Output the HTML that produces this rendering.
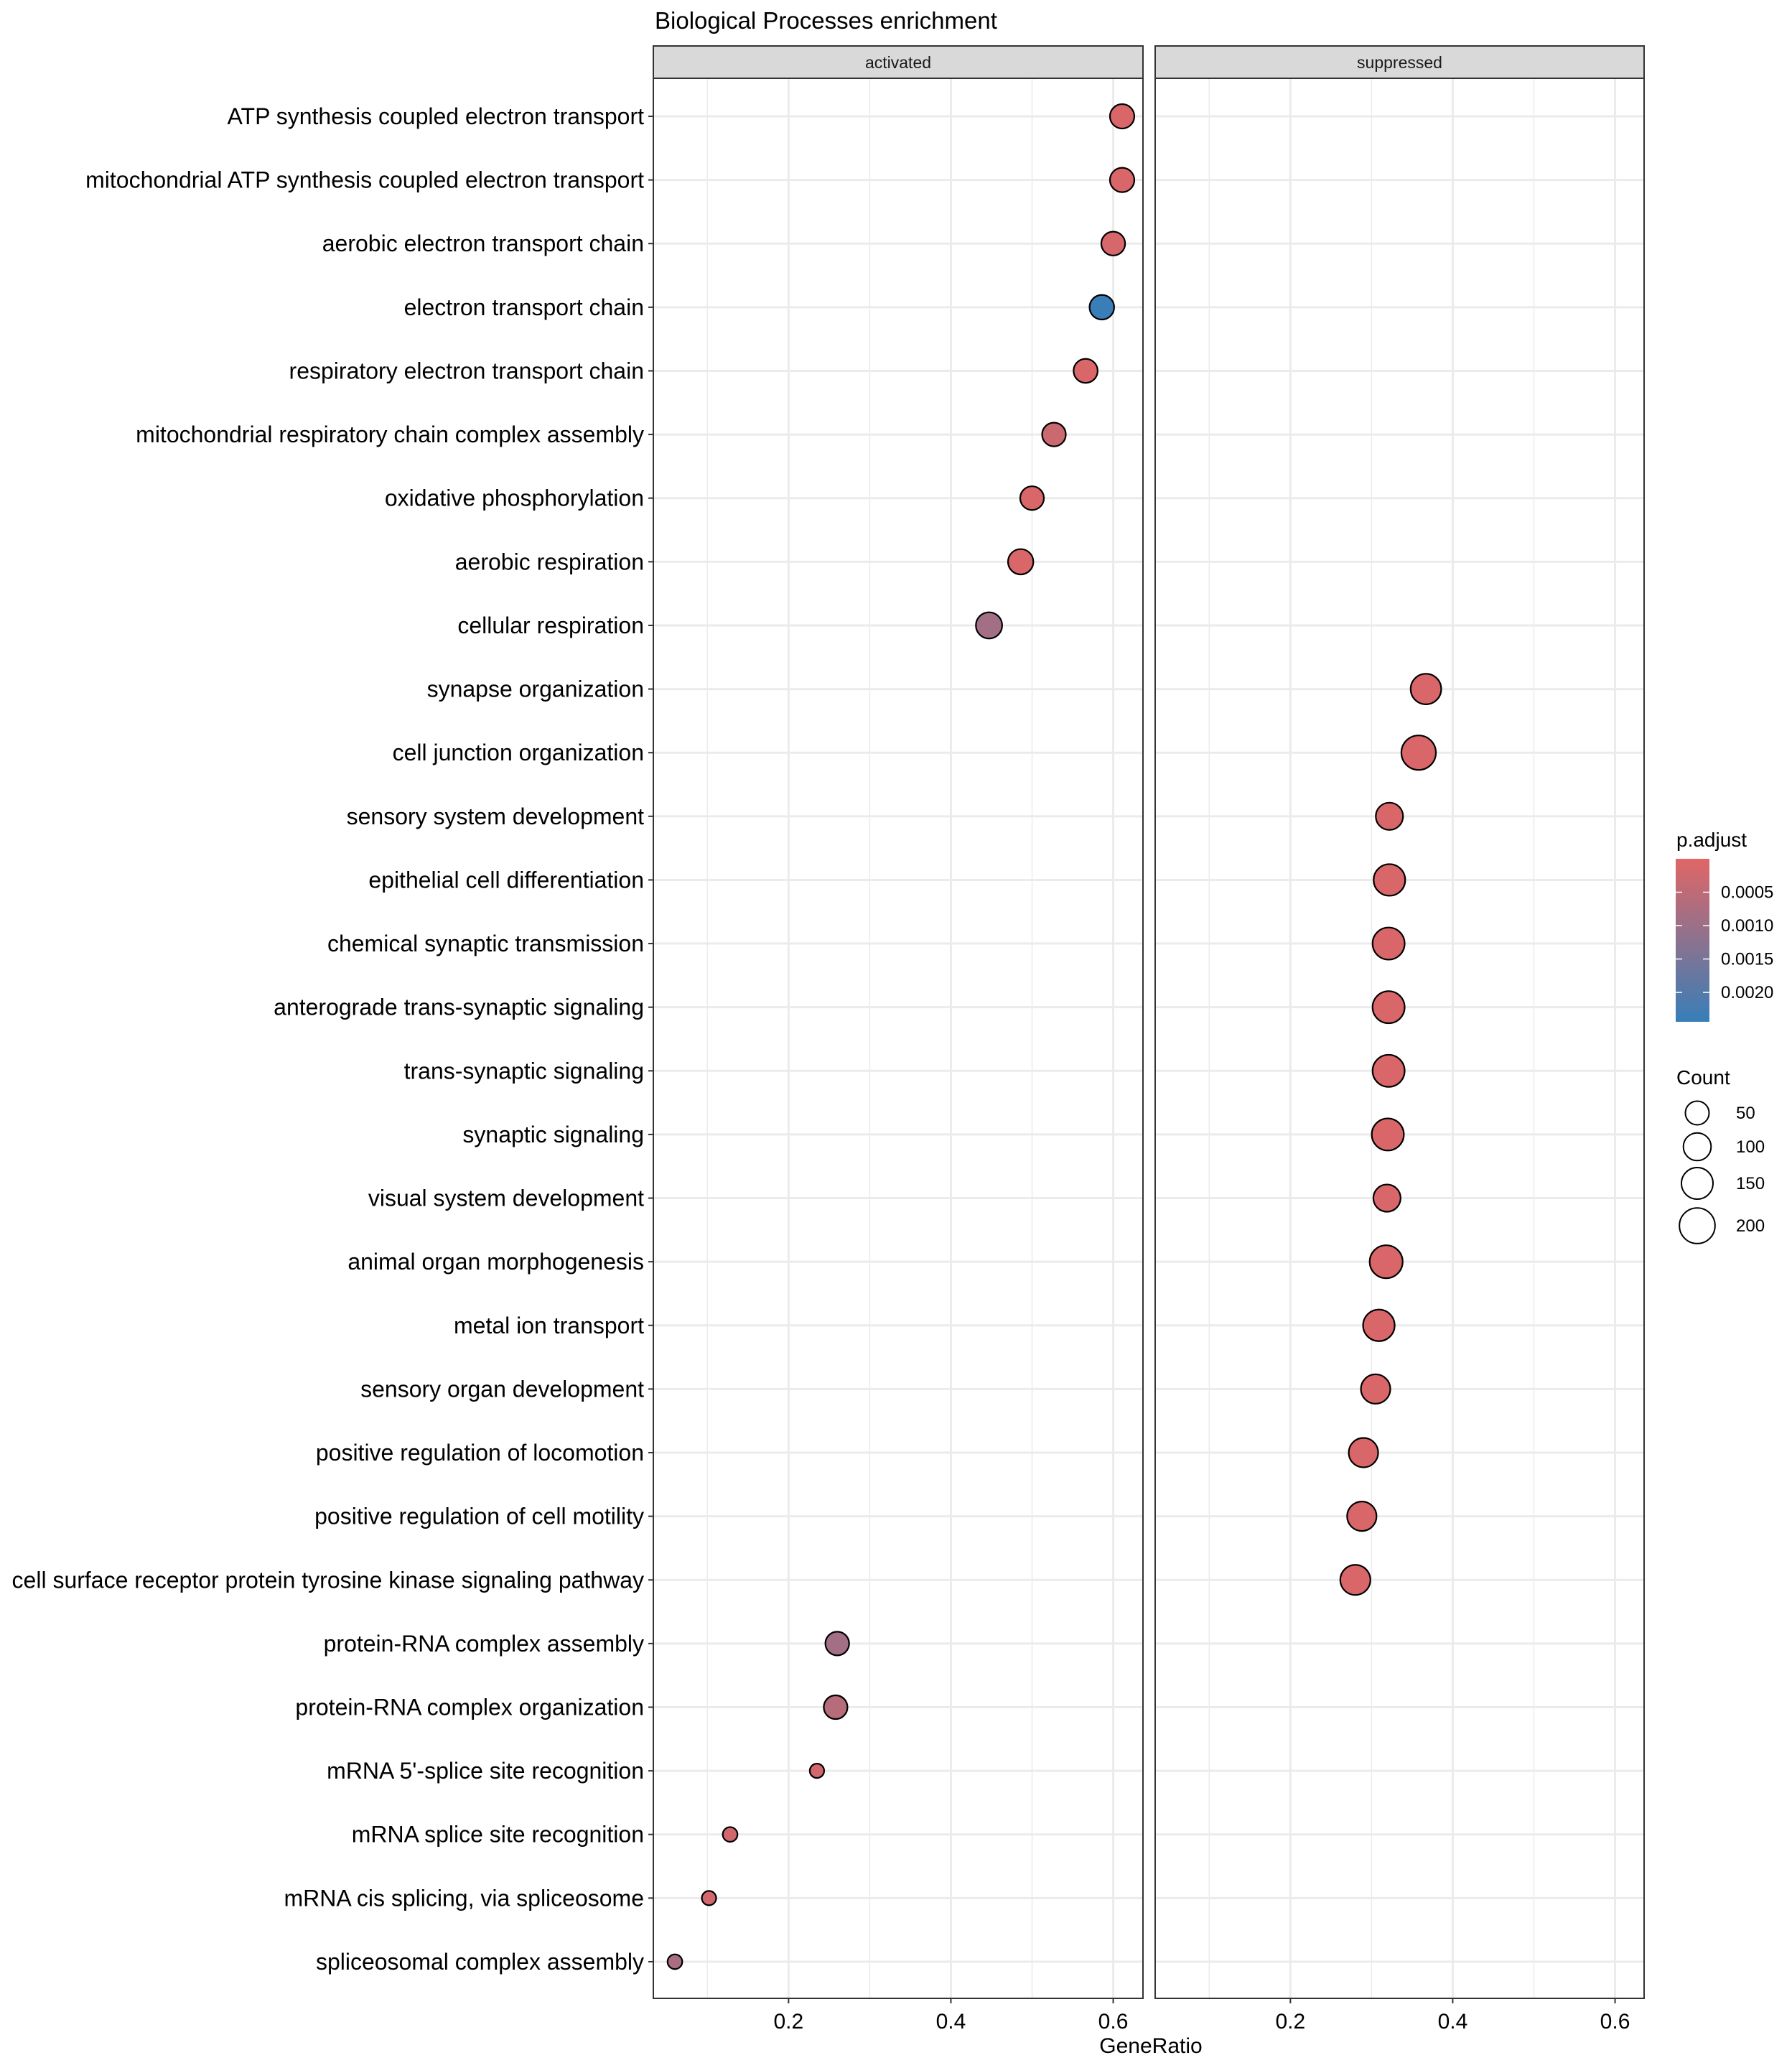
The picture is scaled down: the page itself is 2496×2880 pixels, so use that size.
<!DOCTYPE html>
<html><head><meta charset="utf-8"><style>
html,body{margin:0;padding:0;background:#fff;}
svg{display:block;font-family:"Liberation Sans",Arial,sans-serif;}
</style></head><body>
<svg id="chart" width="2496" height="2880" viewBox="0 0 2496 2880" xmlns="http://www.w3.org/2000/svg">
<text x="912" y="40" font-size="33" fill="#000">Biological Processes enrichment</text>
<g id="layer"></g>
</svg>
<script>
const categories = ["ATP synthesis coupled electron transport","mitochondrial ATP synthesis coupled electron transport","aerobic electron transport chain","electron transport chain","respiratory electron transport chain","mitochondrial respiratory chain complex assembly","oxidative phosphorylation","aerobic respiration","cellular respiration","synapse organization","cell junction organization","sensory system development","epithelial cell differentiation","chemical synaptic transmission","anterograde trans-synaptic signaling","trans-synaptic signaling","synaptic signaling","visual system development","animal organ morphogenesis","metal ion transport","sensory organ development","positive regulation of locomotion","positive regulation of cell motility","cell surface receptor protein tyrosine kinase signaling pathway","protein-RNA complex assembly","protein-RNA complex organization","mRNA 5'-splice site recognition","mRNA splice site recognition","mRNA cis splicing, via spliceosome","spliceosomal complex assembly"];
const panels = ["activated","activated","activated","activated","activated","activated","activated","activated","activated","suppressed","suppressed","suppressed","suppressed","suppressed","suppressed","suppressed","suppressed","suppressed","suppressed","suppressed","suppressed","suppressed","suppressed","suppressed","activated","activated","activated","activated","activated","activated"];
const geneRatio = [0.611,0.611,0.600,0.586,0.566,0.527,0.500,0.486,0.447,0.367,0.358,0.322,0.322,0.321,0.321,0.321,0.320,0.319,0.318,0.309,0.305,0.290,0.288,0.280,0.260,0.258,0.235,0.128,0.102,0.060];
const counts = [83,83,78,85,80,77,77,92,101,147,195,111,159,165,165,165,165,111,176,159,134,134,134,142,77,77,10,12,10,12];
const pAdjust = [0.0001,0.0001,0.00015,0.0024,0.0001,0.0003,0.0001,0.0001,0.0009,0.0001,0.0001,0.0001,0.0001,0.0001,0.0001,0.0001,0.0001,0.0001,0.0001,0.0001,0.0001,0.0001,0.0001,0.0001,0.0009,0.0006,0.0002,0.0002,0.0002,0.0008];
const xTicks = [0.2,0.4,0.6];
const xMinor = [0.1,0.3,0.5];
const facetNames = ["activated","suppressed"];
const pTicks = [0.0005,0.0010,0.0015,0.0020];
const pTickLabels = ["0.0005","0.0010","0.0015","0.0020"];
const sizeBreaks = [50,100,150,200];

const NS="http://www.w3.org/2000/svg";
const layer=document.getElementById('layer');
function mk(tag,attrs,parent){const e=document.createElementNS(NS,tag);for(const k in attrs)e.setAttribute(k,attrs[k]);(parent||layer).appendChild(e);return e;}
const panelBox={activated:{l:910,r:1592},suppressed:{l:1609,r:2290}};
const yTop=109,yBottom=2783;
function xScale(v,p){return panelBox[p].l + (v-0.0334)*1130.5;}
function yScale(i){return 162+i*88.62;}
function rScale(c){return Math.sqrt(74+2.58*c);}
const pMax=0.00244;
function colorScale(p){const t=Math.max(0,Math.min(1,p/pMax));const a=[224,102,102],b=[55,126,184];
 return 'rgb('+a.map((v,k)=>Math.round(v+(b[k]-v)*t)).join(',')+')';}

facetNames.forEach(function(p){
 const b=panelBox[p];
 const g=mk('g',{});
 
 
 mk('rect',{x:b.l,y:yTop,width:b.r-b.l,height:yBottom-yTop,fill:'#fff'},g);
 xMinor.forEach(function(v){const x=xScale(v,p);mk('line',{x1:x,x2:x,y1:yTop,y2:yBottom,stroke:'#ebebeb','stroke-width':1.5},g);});
 categories.forEach(function(c,i){mk('line',{x1:b.l,x2:b.r,y1:yScale(i),y2:yScale(i),stroke:'#ebebeb','stroke-width':3},g);});
 xTicks.forEach(function(v){const x=xScale(v,p);mk('line',{x1:x,x2:x,y1:yTop,y2:yBottom,stroke:'#ebebeb','stroke-width':3},g);
  mk('line',{x1:x,x2:x,y1:yBottom,y2:yBottom+7,stroke:'#333','stroke-width':2},g);
  const t=mk('text',{x:x,y:yBottom+42,'font-size':30,'text-anchor':'middle',fill:'#000'},g);t.textContent=v.toFixed(1);
  
  });
 mk('rect',{x:b.l,y:yTop,width:b.r-b.l,height:yBottom-yTop,fill:'none',stroke:'#333','stroke-width':2},g);
 const s=mk('rect',{x:b.l,y:64,width:b.r-b.l,height:45,fill:'#d9d9d9',stroke:'#333','stroke-width':2},g);
 
 
 const st=mk('text',{x:(b.l+b.r)/2,y:95,'font-size':23,'text-anchor':'middle',fill:'#1a1a1a'},g);st.textContent=p;
 
 
});
categories.forEach(function(c,i){
 const y=yScale(i);
 mk('line',{x1:903,x2:910,y1:y,y2:y,stroke:'#333','stroke-width':2});
 const t=mk('text',{x:897,y:y+11,'font-size':32,'text-anchor':'end',fill:'#000'});t.textContent=c;
 
 
});
categories.forEach(function(c,i){
 const d=mk('circle',{cx:xScale(geneRatio[i],panels[i]),cy:yScale(i),r:rScale(counts[i]),fill:colorScale(pAdjust[i]),stroke:'#000','stroke-width':2.2});
 
 
});
const xt=mk('text',{x:1603,y:2859,'font-size':30,'text-anchor':'middle',fill:'#000'});xt.textContent='GeneRatio';



const lt=mk('text',{x:2335,y:1179,'font-size':28,fill:'#000'});lt.textContent='p.adjust';


const defs=mk('defs',{});
const gr=mk('linearGradient',{id:'pg',x1:0,y1:0,x2:0,y2:1},defs);
mk('stop',{offset:'0','stop-color':colorScale(0)},gr);
mk('stop',{offset:'0.5','stop-color':colorScale(pMax/2)},gr);
mk('stop',{offset:'1','stop-color':colorScale(pMax)},gr);
const cbTop=1196,cbH=227;
const cb=mk('rect',{x:2334,y:cbTop,width:47,height:cbH,fill:'url(#pg)'});


pTicks.forEach(function(v,k){const y=cbTop+v/pMax*cbH;
 mk('line',{x1:2334,x2:2343,y1:y,y2:y,stroke:'#fff','stroke-width':1.5});
 mk('line',{x1:2372,x2:2381,y1:y,y2:y,stroke:'#fff','stroke-width':1.5});
 const t=mk('text',{x:2397,y:y+8,'font-size':24,fill:'#000'});t.textContent=pTickLabels[k];
 
 });
const ct=mk('text',{x:2335,y:1510,'font-size':28,fill:'#000'});ct.textContent='Count';


const legR=[16.5,19.3,22,24.8];
const legY=[1550,1597,1648,1707];
sizeBreaks.forEach(function(v,k){
 const c=mk('circle',{cx:2364,cy:legY[k],r:legR[k],fill:'none',stroke:'#000','stroke-width':2});
 
 
 const t=mk('text',{x:2418,y:legY[k]+8,'font-size':24,fill:'#000'});t.textContent=String(v);
 
 
});
</script>
</body></html>
